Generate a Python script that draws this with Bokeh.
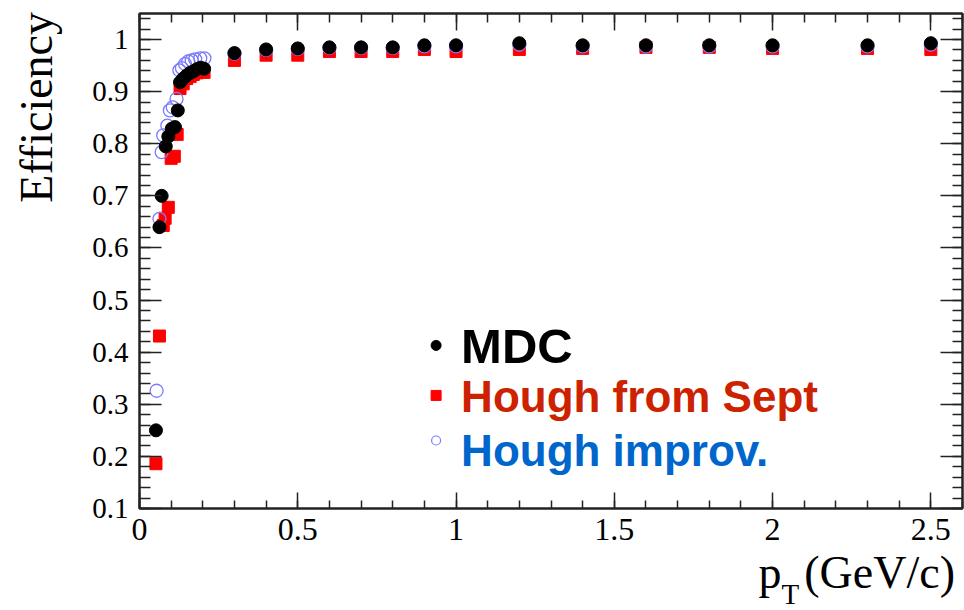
from bokeh.plotting import figure
from bokeh.models import FixedTicker, LinearAxis, Label, Range1d, Div
from bokeh.layouts import column, row
from bokeh.embed import file_html
from bokeh.resources import INLINE

# ---------------- data ----------------
x_mdc = [0.052, 0.063, 0.070, 0.083, 0.091, 0.102, 0.112, 0.121, 0.128, 0.138,
         0.149, 0.160, 0.170, 0.181, 0.193, 0.204,
         0.3, 0.4, 0.5, 0.6, 0.7, 0.8, 0.9, 1.0, 1.2, 1.4, 1.6, 1.8, 2.0, 2.3, 2.5]
y_mdc = [0.250, 0.640, 0.700, 0.795, 0.814, 0.829, 0.832, 0.864, 0.918, 0.925,
         0.931, 0.936, 0.939, 0.943, 0.946, 0.944,
         0.974, 0.981, 0.983, 0.985, 0.985, 0.985, 0.989, 0.989, 0.993, 0.989,
         0.989, 0.989, 0.989, 0.989, 0.993]

x_sept = [0.052, 0.063, 0.075, 0.081, 0.091, 0.100, 0.110, 0.119, 0.128, 0.138,
          0.149, 0.160, 0.170, 0.181, 0.193, 0.204,
          0.3, 0.4, 0.5, 0.6, 0.7, 0.8, 0.9, 1.0, 1.2, 1.4, 1.6, 1.8, 2.0, 2.3, 2.5]
y_sept = [0.186, 0.431, 0.643, 0.657, 0.678, 0.772, 0.776, 0.818, 0.906, 0.915,
          0.925, 0.929, 0.933, 0.936, 0.938, 0.937,
          0.960, 0.970, 0.970, 0.977, 0.977, 0.977, 0.981, 0.977, 0.981, 0.983,
          0.985, 0.985, 0.983, 0.983, 0.981]

x_imp = [0.054, 0.063, 0.070, 0.075, 0.088, 0.096, 0.105, 0.117, 0.126, 0.134,
         0.144, 0.154, 0.165, 0.176, 0.192, 0.205,
         0.3, 0.4, 0.5, 0.6, 0.7, 0.8, 0.9, 1.0, 1.2, 1.4, 1.6, 1.8, 2.0, 2.3, 2.5]
y_imp = [0.326, 0.656, 0.784, 0.816, 0.835, 0.864, 0.870, 0.886, 0.941, 0.945,
         0.953, 0.958, 0.960, 0.962, 0.964, 0.964,
         0.973, 0.980, 0.982, 0.984, 0.984, 0.984, 0.987, 0.987, 0.990, 0.987,
         0.987, 0.987, 0.987, 0.987, 0.990]

x_major = [0.0, 0.5, 1.0, 1.5, 2.0, 2.5]
x_labels = ["0", "0.5", "1", "1.5", "2", "2.5"]
x_minor = [i / 10 for i in range(0, 27)]
y_major = [0.1, 0.2, 0.3, 0.4, 0.5, 0.6, 0.7, 0.8, 0.9, 1.0]
y_labels = ["0.1", "0.2", "0.3", "0.4", "0.5", "0.6", "0.7", "0.8", "0.9", "1"]
y_minor = [round(0.1 + 0.02 * i, 2) for i in range(0, 48)]

series_names = ["MDC", "Hough from Sept", "Hough improv."]
y_title = "Efficiency"

# ---------------- figure ----------------
AX = "#222222"
SERIF = "Liberation Serif"
LEFT_W = 70

p = figure(width=964 - LEFT_W, height=558, x_range=Range1d(0.0, 2.6), y_range=Range1d(0.1, 1.05),
           output_backend="svg", toolbar_location=None,
           min_border_left=139 - LEFT_W, min_border_right=2, min_border_top=13, min_border_bottom=50)
p.xgrid.visible = False
p.ygrid.visible = False
p.outline_line_color = AX
p.outline_line_width = 2
p.background_fill_color = "white"
p.border_fill_color = "white"


def style(ax, major, minor, tin, min_in, labels=None, size="30px", standoff=6):
    ax.ticker = FixedTicker(ticks=major, minor_ticks=minor)
    ax.axis_line_color = AX
    ax.axis_line_width = 2
    ax.major_tick_in = tin
    ax.major_tick_out = 0
    ax.minor_tick_in = min_in
    ax.minor_tick_out = 0
    ax.major_tick_line_color = AX
    ax.major_tick_line_width = 1.5
    ax.minor_tick_line_color = AX
    ax.minor_tick_line_width = 1.5
    ax.axis_label = None
    if labels is None:
        ax.major_label_text_font_size = "1px"
        ax.major_label_text_alpha = 0
        ax.major_label_standoff = 0
    else:
        ax.major_label_overrides = {v: t for v, t in zip(major, labels)}
        ax.major_label_text_font = SERIF
        ax.major_label_text_font_size = size
        ax.major_label_text_color = "black"
        ax.major_label_standoff = standoff


style(p.xaxis[0], x_major, x_minor, 16, 8, x_labels, "32px", 10)
style(p.yaxis[0], y_major, y_minor, 22, 11, y_labels, "29px", 11)
top = LinearAxis()
style(top, x_major, x_minor, 17, 9)
p.add_layout(top, "above")
right = LinearAxis()
style(right, y_major, y_minor, 22, 10)
p.add_layout(right, "right")

# ---------------- markers ----------------
RED = "#ff0000"
BLUE = "#7b7bff"
p.scatter(x_sept, y_sept, marker="square", size=12, fill_color=RED, line_color=RED)
p.scatter(x_imp, y_imp, marker="circle", size=13, fill_color=None, line_color=BLUE, line_width=1.3)
p.scatter(x_mdc, y_mdc, marker="circle", size=13, fill_color="black", line_color="black")

# ---------------- legend ----------------
leg_mx = 0.937
leg_tx = 1.016
leg_my = [0.413, 0.317, 0.2305]
leg_ty = [0.4125, 0.315, 0.2115]
leg_colors = ["black", "#cc2200", "#0066cc"]
leg_sizes = ["49px", "44px", "44px"]
p.scatter([leg_mx], [leg_my[0]], marker="circle", size=10, fill_color="black", line_color="black")
p.scatter([leg_mx], [leg_my[1]], marker="square", size=10, fill_color=RED, line_color=RED)
p.scatter([leg_mx], [leg_my[2]], marker="circle", size=9, fill_color=None, line_color=BLUE, line_width=1.2)
for name, ty, c, fs in zip(series_names, leg_ty, leg_colors, leg_sizes):
    p.add_layout(Label(x=leg_tx, y=ty, text=name, text_font="Liberation Sans",
                       text_font_style="bold", text_font_size=fs, text_color=c,
                       text_align="left", text_baseline="alphabetic"))

# ---------------- axis titles (HTML) ----------------
yt = Div(text=("<div style=\"position:absolute; left:14px; top:312px; width:300px; height:46px; "
               "line-height:46px; font-family:'Liberation Serif'; font-size:46px; color:black; "
               "text-align:right; white-space:nowrap; transform-origin:0 0; "
               "transform:rotate(-90deg);\">" + y_title + "</div>"),
         width=LEFT_W, height=610,
         styles={"position": "relative", "overflow": "visible", "margin": "0"})

xt = Div(text=("<div style=\"font-family:'Liberation Serif'; font-size:46px; line-height:30px; "
               "color:black; white-space:nowrap;\">p<span style=\"font-size:29px; "
               "position:relative; top:16px; margin-right:5px; line-height:0;\">T</span>"
               "(GeV/c)</div>"),
         width=964 - LEFT_W, height=52,
         styles={"text-align": "right", "padding-right": "9px", "box-sizing": "border-box",
                 "overflow": "visible", "margin": "0"})

layout = row(yt, column(p, xt, spacing=0), spacing=0)
open("out.html", "w").write(file_html(layout, INLINE))
